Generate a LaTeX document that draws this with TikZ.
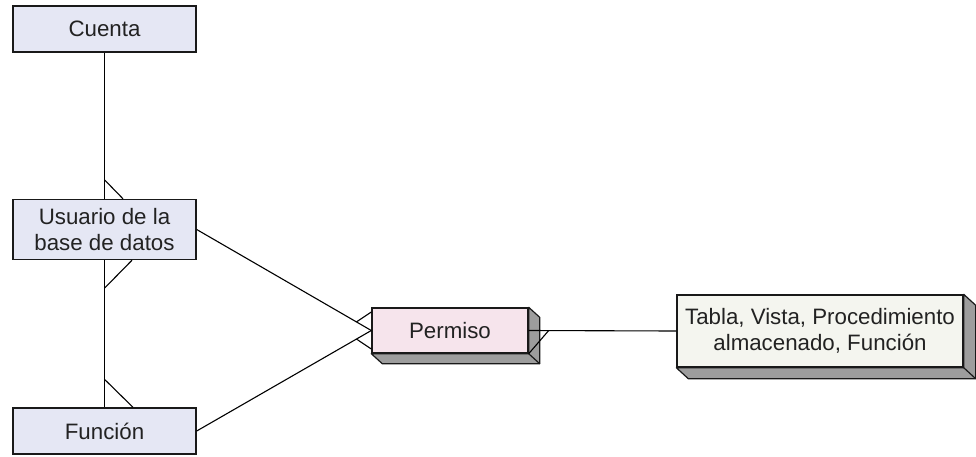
\documentclass[tikz,border=0pt]{standalone}
\usepackage{fontspec}
\setmainfont{Liberation Sans}
\usetikzlibrary{calc}
\definecolor{boxblue}{HTML}{E5E7F4}
\definecolor{boxpink}{HTML}{F6E4EC}
\definecolor{boxwhite}{HTML}{F4F5EF}
\definecolor{shadowgray}{HTML}{9D9D9D}
\definecolor{textgray}{HTML}{222222}
\tikzset{
  entity/.style={draw=black!90, line width=1.4pt, inner sep=0pt, align=center,
    text=textgray, font=\fontsize{22.3}{25.5}\selectfont},
  blueent/.style={entity, fill=boxblue, minimum width=183pt},
  pinkent/.style={entity, fill=boxpink},
  whiteent/.style={entity, fill=boxwhite},
  shadowface/.style={fill=shadowgray, draw=black!90, line width=1.2pt, line join=round},
  rel/.style={draw=black, line width=1.1pt}
}
\begin{document}
\begin{tikzpicture}[x=1pt,y=-1pt]
\useasboundingbox (0,0) rectangle (976,456);
% entities
\node[blueent, minimum height=46pt] (C) at (104.5,29) {Cuenta};
\node[blueent, minimum height=60pt] (U) at (104.5,229.5) {Usuario de la\\base de datos};
\node[blueent, minimum height=46pt] (F) at (104.5,431) {Función};
% 3D shadows
\node[pinkent, minimum width=156pt, minimum height=45pt] (P) at (450,330.5) {\phantom{Permiso}};
\fill[shadowface] (P.south west) -- ++(11,10) -- ($(P.south east)+(11,10)$) -- ($(P.north east)+(11,10)$) -- (P.north east) -- (P.south east) -- cycle;
\draw[shadowface, fill=none] (P.south east) -- ++(11,10);
\node[pinkent, minimum width=156pt, minimum height=45pt] at (P.center) {Permiso};
\node[whiteent, minimum width=286pt, minimum height=72pt] (T) at (820,331) {\phantom{Tabla}};
\fill[shadowface] (T.south west) -- ++(12,11) -- ($(T.south east)+(12,11)$) -- ($(T.north east)+(12,11)$) -- (T.north east) -- (T.south east) -- cycle;
\draw[shadowface, fill=none] (T.south east) -- ++(12,11);
\node[whiteent, minimum width=286pt, minimum height=72pt] at (T.center) {Tabla, Vista, Procedimiento\\almacenado, Función};
% connectors
\draw[rel] (C.south) -- (U.north);
\draw[rel] ($(U.north)+(0,-19)$) -- ($(U.north)+(18.5,0)$);
\draw[rel] (U.south) -- (F.north);
\draw[rel] ($(U.south)+(0,28)$) -- ($(U.south)+(27.5,0)$);
\draw[rel] ($(F.north)+(0,-28)$) -- ($(F.north)+(28.5,0)$);
\draw[rel] (U.east) -- (P.west);
\draw[rel] ($(U.east)!0.915!(P.west)$) -- ($(P.west)+(0,-18.5)$);
\draw[rel] (F.east) -- (P.west);
\draw[rel] ($(F.east)!0.915!(P.west)$) -- ($(P.west)+(0,18.5)$);
\draw[rel] (P.east) -- (T.west);
\draw[rel] ($(P.east)+(20,0)$) -- (P.south east);
\end{tikzpicture}
\end{document}
